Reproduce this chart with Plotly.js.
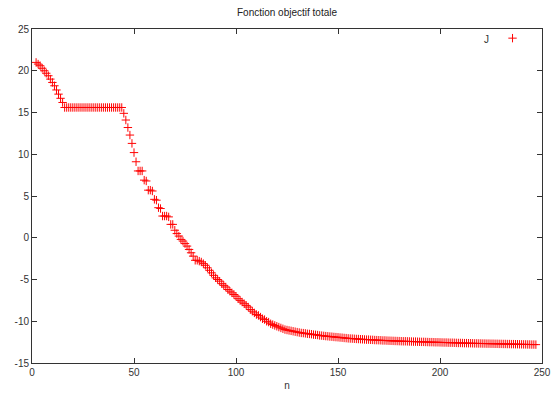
<!DOCTYPE html>
<html>
<head>
<meta charset="utf-8">
<script src="https://cdn.plot.ly/plotly-3.0.1.min.js"></script>
<style>
  html, body { margin: 0; padding: 0; background: #fff; }
  #chart { width: 558px; height: 401px; }
</style>
</head>
<body>
<div id="chart"></div>
<script>
// Iteration index of the first value
const firstIteration = 2;

// Objective function J, one value per iteration (n = 2 .. 247)
const J_start = [21.0, 20.8, 20.6, 20.3, 20.0, 19.7, 19.4, 19.0, 18.6, 18.2, 17.7, 17.2, 16.7, 16.2, 15.6];
const J_plateau = [15.6, 15.6, 15.6, 15.6, 15.6, 15.6, 15.6, 15.6, 15.6, 15.6, 15.6, 15.6, 15.6, 15.6,
                   15.6, 15.6, 15.6, 15.6, 15.6, 15.6, 15.6, 15.6, 15.6, 15.6, 15.6, 15.6, 15.6, 15.6];
const J_drop = [14.9, 14.1, 13.2, 12.3, 11.3, 10.2, 9.1, 8.0, 8.0, 8.0, 6.9, 6.8, 5.7, 5.7, 5.6, 4.6, 4.5, 3.6,
                3.5, 2.6, 2.6, 2.6, 2.5, 1.6, 1.6, 0.9, 0.5, 0.2, -0.2, -0.4, -0.7, -1.0, -1.4, -1.8, -2.2, -2.7];
const J_descent = [-2.7, -2.8, -2.9, -3.1, -3.3, -3.6, -3.9, -4.2, -4.5, -4.8, -5.0, -5.2, -5.5, -5.7, -5.9,
                   -6.2, -6.4, -6.6, -6.8, -7.0, -7.3, -7.5, -7.7, -7.9, -8.1, -8.3, -8.6, -8.8, -9.0, -9.2,
                   -9.3, -9.5, -9.7, -9.8, -10.0, -10.1, -10.3, -10.4, -10.5, -10.6, -10.7, -10.8, -10.9];
const J_knee = [-11.0, -11.05, -11.1, -11.15, -11.2, -11.25, -11.3, -11.35, -11.4, -11.42, -11.45, -11.5, -11.52,
                -11.55, -11.6, -11.62, -11.65, -11.7, -11.72, -11.75, -11.78, -11.8, -11.83, -11.85, -11.88, -11.9, -11.92];
const J_tail1 = [-11.95, -11.97, -12.0, -12.02, -12.05, -12.07, -12.08, -12.1, -12.12, -12.13,
                 -12.15, -12.16, -12.18, -12.2, -12.2, -12.22, -12.23, -12.25, -12.26, -12.27,
                 -12.28, -12.3, -12.3, -12.32, -12.33, -12.34, -12.35, -12.36, -12.37, -12.38,
                 -12.39, -12.4, -12.4, -12.41, -12.42, -12.43, -12.44, -12.44, -12.45, -12.46,
                 -12.47, -12.47, -12.48, -12.49, -12.5, -12.5, -12.51, -12.52, -12.52, -12.53];
const J_tail2 = [-12.54, -12.55, -12.55, -12.56, -12.57, -12.57, -12.58, -12.59, -12.6, -12.6,
                 -12.61, -12.62, -12.62, -12.63, -12.63, -12.64, -12.65, -12.65, -12.66, -12.66,
                 -12.67, -12.67, -12.68, -12.68, -12.69, -12.69, -12.7, -12.7, -12.71, -12.71,
                 -12.72, -12.72, -12.73, -12.73, -12.74, -12.74, -12.75, -12.75, -12.76, -12.76,
                 -12.77, -12.77, -12.78, -12.78, -12.79, -12.79, -12.8];

const xTicks = [0, 50, 100, 150, 200, 250];
const yTicks = [-15, -10, -5, 0, 5, 10, 15, 20, 25];
const seriesName = 'J';

const J = [].concat(J_start, J_plateau, J_drop, J_descent, J_knee, J_tail1, J_tail2);
const n = J.map((_, i) => firstIteration + i);

const axisFont = { family: 'Liberation Sans, Arial, sans-serif', size: 10, color: '#333' };

const trace = {
  type: 'scatter',
  mode: 'markers',
  x: n,
  y: J,
  name: '',
  marker: { symbol: 'cross-thin', size: 6, color: '#ff0000', opacity: 0.99,
            line: { color: '#ff0000', width: 1 } },
  hoverinfo: 'x+y'
};

const axisCommon = {
  showgrid: false,
  zeroline: false,
  showline: true,
  linecolor: '#333',
  linewidth: 1,
  mirror: 'ticks',
  ticks: 'inside',
  ticklen: 5,
  tickwidth: 1,
  tickcolor: '#333',
  tickfont: axisFont
};

const layout = {
  width: 558,
  height: 401,
  margin: { l: 32, r: 16, t: 29, b: 38 },
  paper_bgcolor: '#fff',
  plot_bgcolor: '#fff',
  title: {
    text: 'Fonction objectif totale',
    font: { family: 'Liberation Sans, Arial, sans-serif', size: 10, color: '#222' },
    x: 0.5, xref: 'paper', xanchor: 'center',
    y: 1 - 12 / 401, yref: 'container', yanchor: 'middle'
  },
  xaxis: Object.assign({}, axisCommon, {
    range: [0, 250],
    tickvals: xTicks,
    ticktext: xTicks.map(String),
    title: { text: 'n', font: axisFont, standoff: 4 }
  }),
  yaxis: Object.assign({}, axisCommon, {
    range: [-15, 25],
    tickvals: yTicks,
    ticktext: yTicks.map(String)
  }),
  showlegend: true,
  legend: {
    x: 0.903, xanchor: 'left',
    y: 1.016, yanchor: 'top',
    bgcolor: 'rgba(0,0,0,0)',
    borderwidth: 0,
    font: axisFont
  },
  annotations: [{
    text: seriesName,
    xref: 'paper', yref: 'paper',
    x: 0.8916, y: 0.970,
    xanchor: 'center', yanchor: 'middle',
    showarrow: false,
    font: axisFont
  }]
};

Plotly.newPlot('chart', [trace], layout, { displayModeBar: false, staticPlot: true });
</script>
</body>
</html>
